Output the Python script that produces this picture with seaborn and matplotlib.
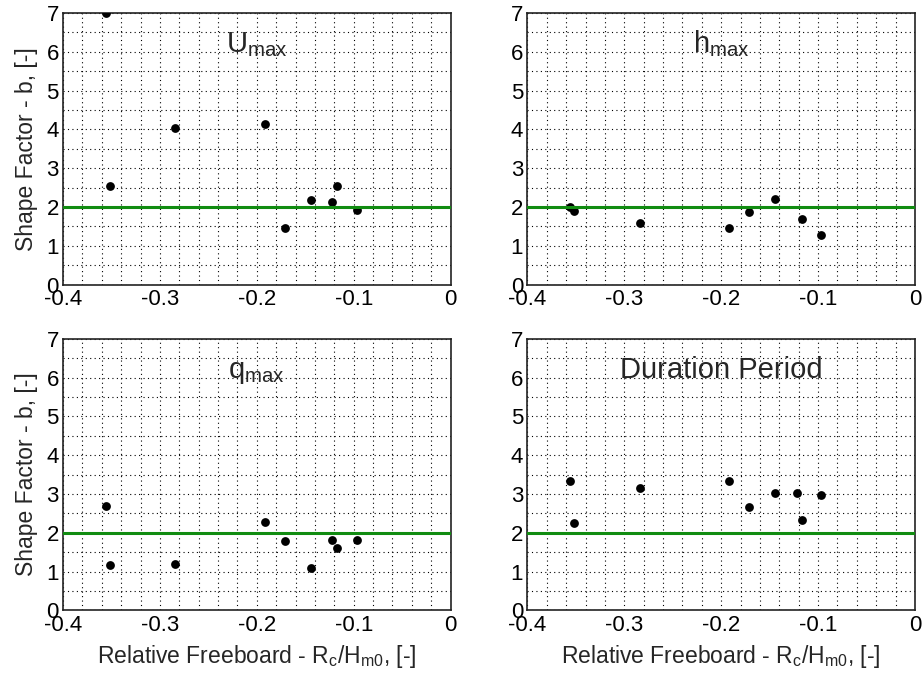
import numpy as np
import pandas as pd
import matplotlib
matplotlib.use("Agg")
import matplotlib.pyplot as plt
import seaborn as sns
from matplotlib.ticker import MultipleLocator

# Relative freeboard Rc/Hm0 of the tests
freeboard = [-0.356, -0.352, -0.284, -0.192, -0.171, -0.144, -0.122, -0.117, -0.097]

# Fitted Weibull shape factor b for each quantity
b_umax = [7.00, 2.54, 4.05, 4.13, 1.45, 2.19, 2.14, 2.54, 1.93]
b_hmax = [2.00, 1.90, 1.58, 1.46, 1.87, 2.20, np.nan, 1.69, 1.29]
b_qmax = [2.68, 1.16, 1.20, 2.28, 1.79, 1.09, 1.82, 1.61, 1.82]
b_duration = [3.33, 2.26, 3.16, 3.33, 2.66, 3.02, 3.02, 2.33, 2.98]

panel_titles = [r"$\mathrm{U}_{\mathrm{max}}$", r"$\mathrm{h}_{\mathrm{max}}$",
                r"$\mathrm{q}_{\mathrm{max}}$", "Duration Period"]
x_ticks = [-0.4, -0.3, -0.2, -0.1, 0]
x_tick_labels = ["-0.4", "-0.3", "-0.2", "-0.1", "0"]
y_ticks = [0, 1, 2, 3, 4, 5, 6, 7]
reference_b = 2.0

sns.set_style("white")
plt.rcParams["font.family"] = ["Liberation Sans", "DejaVu Sans"]
plt.rcParams["mathtext.fontset"] = "custom"
plt.rcParams["mathtext.rm"] = "Liberation Sans"
plt.rcParams["mathtext.it"] = "Liberation Sans:italic"

frames = []
for title, vals in zip(panel_titles, [b_umax, b_hmax, b_qmax, b_duration]):
    frames.append(pd.DataFrame({"freeboard": freeboard, "b": vals, "panel": title}))
data = pd.concat(frames, ignore_index=True)

fig, axes = plt.subplots(2, 2, figsize=(9.23, 6.78), dpi=100)
fig.subplots_adjust(left=0.0683, right=0.9913, bottom=0.0996, top=0.9808,
                    wspace=0.198, hspace=0.199)

for i, (ax, title) in enumerate(zip(axes.flat, panel_titles)):
    sub = data[data["panel"] == title]
    sns.scatterplot(data=sub, x="freeboard", y="b", ax=ax, color="black",
                    s=40, edgecolor="black", linewidth=0, zorder=3)
    ax.axhline(reference_b, color="#118c11", linewidth=2.2, zorder=4)
    ax.set_xlim(-0.4, 0)
    ax.set_ylim(0, 7)
    ax.set_xticks(x_ticks)
    ax.set_xticklabels(x_tick_labels)
    ax.set_yticks(y_ticks)
    ax.set_yticklabels([str(v) for v in y_ticks])
    ax.xaxis.set_minor_locator(MultipleLocator(0.02))
    ax.yaxis.set_minor_locator(MultipleLocator(0.5))
    ax.grid(True, which="both", color="black", linestyle=(0, (1, 3)), linewidth=0.8)
    ax.tick_params(which="major", direction="in", length=5, width=0.8,
                   labelsize=16, pad=3, colors="black")
    ax.tick_params(which="minor", length=0)
    for sp in ax.spines.values():
        sp.set_color("#222222")
        sp.set_linewidth(1.2)
    ax.text(-0.2, 6.0, title, ha="center", va="baseline", fontsize=21)
    ax.set_xlabel("")
    ax.set_ylabel("")
    if i % 2 == 0:
        ax.set_ylabel("Shape Factor - b, [-]", fontsize=16.5, labelpad=6)
    if i >= 2:
        ax.set_xlabel(r"Relative Freeboard - R$_\mathrm{c}$/H$_\mathrm{m0}$, [-]",
                      fontsize=16.5, labelpad=5)

fig.savefig("out.png", dpi=100)
